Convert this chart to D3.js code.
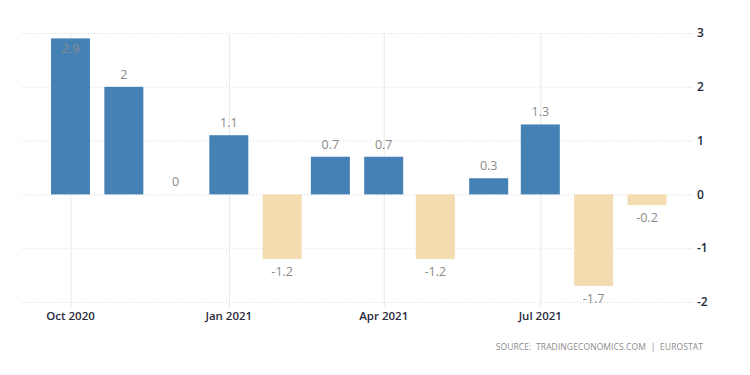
<!DOCTYPE html>
<html>
<head>
<meta charset="utf-8">
<script src="https://cdn.jsdelivr.net/npm/d3@7"></script>
<style>
  body { margin: 0; background: #fff; }
  svg { display: block; font-family: "Open Sans", "DejaVu Sans", sans-serif; }
  .grid line { stroke: #d9d9d9; stroke-dasharray: 1,2; }
  .grid path { display: none; }
  .vgrid line { stroke: #e8e8e8; }
  .vgrid path { display: none; }
</style>
</head>
<body>
<svg id="chart"></svg>
<script>
const W = 750, H = 375;

const months = ["2020-10", "2020-11", "2020-12", "2021-01", "2021-02", "2021-03",
                "2021-04", "2021-05", "2021-06", "2021-07", "2021-08", "2021-09"];
const values = [2.9, 2, 0, 1.1, -1.2, 0.7, 0.7, -1.2, 0.3, 1.3, -1.7, -0.2];
const xTicks = ["2020-10", "2021-01", "2021-04", "2021-07"];
const xTickLabels = ["Oct 2020", "Jan 2021", "Apr 2021", "Jul 2021"];
const yTicks = [-2, -1, 0, 1, 2, 3];

const plotLeft = 22, plotRight = 693;
const plotTop = 33, plotBottom = 302;
const barW = 39;

const parse = d3.timeParse("%Y-%m");
const dates = months.map(parse);

const svg = d3.select("#chart")
    .attr("width", W)
    .attr("height", H);

const x = d3.scaleTime()
    .domain([dates[0], dates[dates.length - 1]])
    .range([70.5, 647]);

const y = d3.scaleLinear()
    .domain([-2, 3])
    .range([plotBottom, plotTop]);

// horizontal grid
svg.append("g")
    .attr("class", "grid")
    .attr("transform", `translate(${plotLeft},0)`)
    .call(d3.axisLeft(y).tickValues(yTicks).tickSize(-(plotRight - plotLeft)).tickFormat(""));

// vertical grid
svg.append("g")
    .attr("class", "vgrid")
    .attr("transform", `translate(0,${plotBottom + 5})`)
    .call(d3.axisBottom(x).tickValues(xTicks.map(parse))
        .tickSize(-(plotBottom + 5 - plotTop)).tickFormat(""));

// y labels
svg.append("g")
    .selectAll("text")
    .data(yTicks)
    .join("text")
    .attr("x", plotRight + 4)
    .attr("y", d => y(d))
    .attr("dy", "0.35em")
    .attr("font-size", 12)
    .attr("font-weight", 600)
    .attr("fill", "#222a3a")
    .text(d => d);

// x labels
svg.append("g")
    .selectAll("text")
    .data(xTicks)
    .join("text")
    .attr("x", d => x(parse(d)))
    .attr("y", 320)
    .attr("text-anchor", "middle")
    .attr("font-size", 11.5)
    .attr("font-weight", 600)
    .attr("fill", "#2a2a3a")
    .text((d, i) => xTickLabels[i]);

// bars
svg.append("g")
    .selectAll("rect")
    .data(values)
    .join("rect")
    .attr("x", (d, i) => x(dates[i]) - barW / 2)
    .attr("width", barW)
    .attr("y", d => y(Math.max(0, d)))
    .attr("height", d => Math.abs(y(d) - y(0)))
    .attr("fill", d => d >= 0 ? "#4581b5" : "#f3dcb0");

// value labels
svg.append("g")
    .selectAll("text")
    .data(values)
    .join("text")
    .attr("x", (d, i) => x(dates[i]))
    .attr("y", d => {
        if (d >= 0) {
            const yy = y(d) - 8;
            return yy < plotTop + 4 ? y(d) + 15 : yy;
        }
        return y(d) + 17;
    })
    .attr("text-anchor", "middle")
    .attr("font-size", 12.5)
    .attr("fill", "#8a8a8a")
    .text(d => d);

// source
svg.append("text")
    .attr("x", 703)
    .attr("y", 350)
    .attr("text-anchor", "end")
    .attr("font-size", 8.5)
    .attr("fill", "#8c8c8c")
    .attr("letter-spacing", "0.1")
    .attr("xml:space", "preserve")
    .text("SOURCE:  TRADINGECONOMICS.COM  |  EUROSTAT");
</script>
</body>
</html>
